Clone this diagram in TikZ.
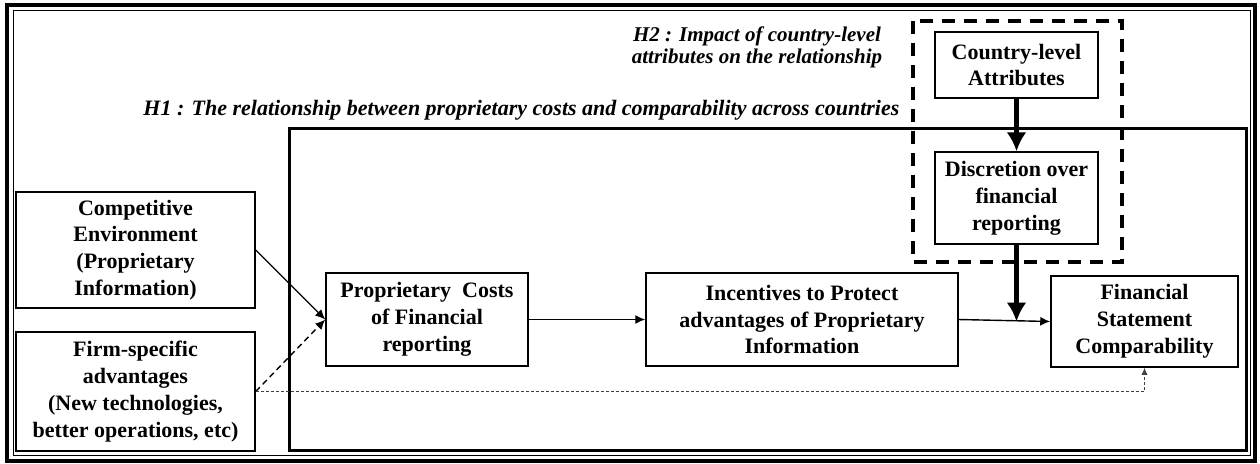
\documentclass[tikz,border=0pt]{standalone}
\usepackage{fontspec}
\setmainfont{Liberation Serif}
\usetikzlibrary{arrows.meta}

\begin{document}
\begin{tikzpicture}[
                        x=0.5pt, y=-0.5pt,
                        >={Latex[length=5pt,width=4.5pt]},
                        block/.style={rectangle, draw, line width=0.75pt, inner sep=0pt, align=center,
                                      font=\bfseries\fontsize{11}{13.4}\selectfont},
                        heavy/.style={line width=2.5pt, -{Latex[length=9.5pt,width=10pt]}},
                        hypo/.style={inner sep=0pt, font=\bfseries\itshape\fontsize{11}{11}\selectfont}
                    ]
                    \useasboundingbox (0,0) rectangle (1260,463);

                    % Frames
                    \draw [line width=2pt] (7,5) rectangle (1255,461);
                    \draw [line width=0.5pt] (13.5,10.5) rectangle (1250,455.5);
                    \draw [line width=1.5pt] (289,128) rectangle (1246,450.5);
                    \draw [line width=1.75pt, dash pattern=on 6.5pt off 4.5pt] (913,21) rectangle (1122,262);

                    % Hypotheses
                    \node [hypo, anchor=west] (h1) at (143,110) {H1 : The relationship between proprietary costs and comparability across countries};
                    \node [hypo, align=center, font=\bfseries\itshape\fontsize{10.5}{11}\selectfont] (h2) at (757,47) {H2 : Impact of country-level\\attributes on the relationship};

                    % Blocks
                    \node [block, minimum width=119.5pt, minimum height=58pt] (comp) at (135.5,250) {Competitive\\Environment\\(Proprietary\\Information)};
                    \node [block, minimum width=119.5pt, minimum height=59.5pt] (firm) at (135.5,391.5) {Firm-specific\\advantages\\(New technologies,\\better operations, etc)};
                    \node [block, minimum width=101pt, minimum height=46.5pt] (prop) at (427,319.5) {Proprietary~ Costs\\of Financial\\reporting};
                    \node [block, minimum width=156pt, minimum height=46.5pt] (inc) at (802,319.5) {Incentives to Protect\\advantages of Proprietary\\Information};
                    \node [block, minimum width=93.5pt, minimum height=45.5pt] (fin) at (1144.5,321.5) {Financial\\Statement\\Comparability};
                    \node [block, minimum width=81.5pt, minimum height=33pt] (country) at (1016.5,65) {Country-level\\Attributes};
                    \node [block, minimum width=81.5pt, minimum height=46pt] (disc) at (1016.5,198) {Discretion over\\financial\\reporting};
                    \coordinate (meet) at (disc.south |- fin.west);

                    % Connections
                    \draw [->, line width=0.7pt] (comp.east) -- (prop.west);
                    \draw [->, line width=0.7pt, dash pattern=on 3pt off 2pt] (firm.east) -- (prop.west);
                    \draw [-{Latex[length=3.5pt,width=3pt]}, line width=0.4pt, black!75, dash pattern=on 1.5pt off 1pt] (firm.east) -| (fin.south);
                    \draw [->, line width=0.7pt] (prop) -- (inc);
                    \draw [->, line width=0.7pt] (inc.east) -- (fin.west);
                    \draw [heavy] (country) -- (disc);
                    \draw [heavy] (disc) -- (meet);
                \end{tikzpicture}
\end{document}
